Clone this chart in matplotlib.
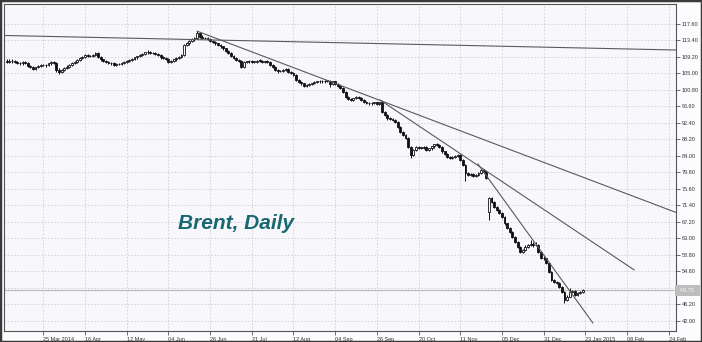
import numpy as np
import matplotlib
matplotlib.use('Agg')
import matplotlib.pyplot as plt
from matplotlib.patches import Rectangle

# daily OHLC, one entry per trading day, 05 Mar 2014 .. 22 Jan 2015
opens = [108.1, 107.9, 108.2, 108.0, 107.8, 107.6, 107.5, 107.8, 107.7, 106.8,
         106.5, 106.0, 106.5, 106.8, 107.1, 107.0, 107.2, 107.5, 107.9, 107.7,
         105.8, 105.4, 105.8, 106.3, 106.7, 107.1, 107.7, 107.8, 108.4, 108.8,
         109.2, 109.6, 109.4, 109.3, 109.6, 110.1, 109.2, 108.5, 108.2, 107.9,
         107.7, 107.5, 107.2, 107.4, 107.3, 107.6, 107.9, 108.1, 108.4, 108.7,
         109.0, 109.3, 109.6, 110.0, 110.3, 110.5, 110.2, 110.1, 109.9, 109.6,
         109.0, 108.8, 108.6, 107.9, 108.1, 108.5, 108.8, 109.2, 109.6, 112.2,
         112.6, 113.2, 113.6, 114.0, 115.1, 114.3, 114.0, 113.9, 113.7, 113.3,
         113.0, 112.6, 112.2, 111.8, 111.3, 110.7, 110.1, 109.4, 108.8, 108.4,
         108.1, 106.7, 107.8, 108.0, 108.1, 107.9, 107.9, 108.2, 108.1, 107.8,
         108.0, 107.9, 107.2, 106.7, 105.8, 105.5, 105.6, 105.8, 106.1, 105.4,
         105.0, 104.6, 103.3, 102.8, 102.4, 101.8, 102.0, 102.2, 102.4, 102.7,
         102.9, 103.0, 102.9, 103.0, 103.0, 102.3, 102.9, 102.3, 101.8, 101.2,
         100.3, 99.0, 98.4, 98.2, 98.6, 99.0, 98.8, 98.2, 97.8, 97.5,
         97.3, 97.4, 97.6, 97.2, 97.6, 95.2, 94.4, 93.5, 93.4, 93.1,
         92.7, 91.4, 90.1, 89.3, 88.5, 86.3, 84.2, 85.5, 86.3, 86.1,
         86.0, 86.3, 85.5, 85.9, 86.4, 86.9, 86.8, 86.3, 85.1, 84.4,
         83.8, 83.4, 83.8, 84.0, 84.2, 82.9, 81.7, 79.6, 79.1, 79.3,
         78.9, 79.1, 79.6, 80.4, 80.0, 69.8, 73.2, 72.3, 71.1, 70.2,
         69.4, 68.5, 66.8, 65.6, 64.7, 63.4, 62.2, 60.9, 59.6, 60.1,
         60.9, 61.3, 61.5, 61.2, 61.3, 59.6, 58.1, 57.9, 56.7, 54.5,
         52.4, 52.0, 51.6, 50.7, 49.4, 47.3, 48.2, 49.3, 49.5, 48.6,
         49.0, 49.3]

highs = [108.5, 108.5, 108.5, 108.3, 108.1, 107.9, 108.1, 108.1, 107.9, 107.1,
         106.8, 106.7, 107.0, 107.3, 107.4, 107.4, 107.7, 108.2, 108.2, 107.9,
         106.2, 106.0, 106.6, 107.0, 107.4, 107.9, 108.1, 108.6, 109.1, 109.5,
         109.9, 109.9, 109.7, 109.8, 110.5, 110.3, 109.4, 108.7, 108.4, 108.1,
         107.9, 107.8, 107.6, 107.7, 107.8, 108.1, 108.3, 108.6, 108.9, 109.2,
         109.5, 109.8, 110.2, 110.5, 110.8, 110.7, 110.5, 110.3, 110.1, 109.8,
         109.3, 109.0, 108.8, 108.4, 108.7, 109.0, 109.4, 109.8, 112.5, 112.9,
         113.5, 113.9, 114.3, 115.7, 115.3, 114.6, 114.3, 114.1, 113.9, 113.5,
         113.2, 112.8, 112.4, 112.0, 111.5, 110.9, 110.3, 109.6, 109.0, 108.6,
         108.3, 108.0, 108.2, 108.4, 108.3, 108.2, 108.4, 108.5, 108.3, 108.2,
         108.3, 108.1, 107.4, 106.9, 106.0, 105.9, 106.0, 106.3, 106.3, 105.6,
         105.2, 104.8, 103.5, 103.0, 102.6, 102.3, 102.4, 102.6, 102.9, 103.1,
         103.2, 103.2, 103.2, 103.3, 103.2, 103.1, 103.1, 102.5, 102.0, 101.4,
         100.5, 99.2, 98.6, 98.8, 99.2, 99.3, 99.0, 98.4, 98.0, 97.7,
         97.6, 97.8, 97.8, 97.8, 97.9, 95.5, 94.6, 93.8, 93.6, 93.3,
         92.9, 91.6, 90.3, 89.5, 88.7, 86.5, 85.8, 86.6, 86.6, 86.3,
         86.5, 86.5, 86.1, 86.6, 87.1, 87.3, 87.0, 86.5, 85.3, 84.6,
         84.0, 84.0, 84.2, 84.4, 84.4, 83.1, 81.9, 79.9, 79.5, 79.5,
         79.3, 79.8, 80.7, 80.6, 80.2, 73.6, 73.5, 72.5, 71.3, 70.4,
         69.6, 68.7, 67.0, 65.8, 64.9, 63.6, 62.4, 61.1, 60.4, 61.2,
         61.6, 62.5, 62.2, 62.2, 61.5, 59.8, 58.4, 58.1, 56.9, 54.7,
         52.6, 52.2, 51.8, 50.9, 49.6, 48.6, 50.4, 49.8, 49.8, 49.3,
         49.6, 50.1]

lows = [107.6, 107.6, 107.7, 107.5, 107.3, 107.2, 107.2, 107.4, 106.5, 106.2,
        105.7, 105.8, 106.2, 106.5, 106.8, 106.7, 106.9, 107.2, 107.4, 105.4,
        104.9, 105.1, 105.5, 106.0, 106.4, 106.8, 107.4, 107.5, 108.1, 108.5,
        108.9, 109.1, 109.0, 109.0, 109.3, 108.9, 108.2, 107.9, 107.6, 107.4,
        107.2, 106.9, 106.9, 107.0, 107.0, 107.3, 107.6, 107.8, 108.1, 108.4,
        108.7, 109.0, 109.3, 109.7, 110.0, 109.9, 109.8, 109.6, 109.3, 108.7,
        108.5, 108.3, 107.5, 107.6, 107.9, 108.2, 108.5, 108.9, 109.3, 111.9,
        112.3, 112.9, 113.3, 113.7, 114.0, 113.7, 113.6, 113.4, 113.0, 112.7,
        112.3, 111.9, 111.5, 111.0, 110.4, 109.8, 109.1, 108.5, 108.1, 107.8,
        106.2, 106.4, 107.5, 107.7, 107.6, 107.6, 107.6, 107.8, 107.5, 107.5,
        107.6, 106.9, 106.4, 105.5, 105.0, 105.2, 105.4, 105.5, 105.1, 104.7,
        104.3, 103.0, 102.5, 102.1, 101.5, 101.6, 101.8, 102.0, 102.2, 102.5,
        102.6, 102.6, 102.6, 102.7, 101.6, 102.0, 102.0, 101.5, 100.9, 100.0,
        98.7, 98.1, 97.9, 98.0, 98.4, 98.5, 97.9, 97.5, 97.2, 97.0,
        97.0, 97.1, 96.9, 96.9, 94.9, 94.1, 93.2, 93.1, 92.8, 92.4,
        91.1, 89.8, 89.0, 88.2, 86.0, 83.4, 84.0, 85.2, 85.8, 85.7,
        85.7, 85.2, 85.2, 85.6, 86.1, 86.5, 86.0, 84.8, 84.1, 83.5,
        83.1, 83.1, 83.5, 83.7, 82.6, 81.4, 77.5, 78.8, 78.8, 78.6,
        78.6, 78.8, 79.3, 79.7, 78.0, 67.7, 72.0, 70.8, 69.9, 69.1,
        68.2, 66.5, 65.3, 64.4, 63.1, 61.9, 60.6, 59.3, 59.3, 59.8,
        60.6, 61.0, 60.9, 61.0, 59.3, 57.8, 57.6, 56.4, 54.2, 52.1,
        51.7, 51.3, 50.4, 49.1, 46.5, 47.0, 48.0, 49.0, 48.3, 48.4,
        48.8, 49.0]

closes = [107.9, 108.2, 108.0, 107.8, 107.6, 107.5, 107.8, 107.7, 106.8, 106.5,
          106.0, 106.5, 106.8, 107.1, 107.0, 107.2, 107.5, 107.9, 107.7, 105.8,
          105.4, 105.8, 106.3, 106.7, 107.1, 107.7, 107.8, 108.4, 108.8, 109.2,
          109.6, 109.4, 109.3, 109.6, 110.1, 109.2, 108.5, 108.2, 107.9, 107.7,
          107.5, 107.2, 107.4, 107.3, 107.6, 107.9, 108.1, 108.4, 108.7, 109.0,
          109.3, 109.6, 110.0, 110.3, 110.5, 110.2, 110.1, 109.9, 109.6, 109.0,
          108.8, 108.6, 107.9, 108.1, 108.5, 108.8, 109.2, 109.6, 112.2, 112.6,
          113.2, 113.6, 114.0, 115.1, 114.3, 114.0, 113.9, 113.7, 113.3, 113.0,
          112.6, 112.2, 111.8, 111.3, 110.7, 110.1, 109.4, 108.8, 108.4, 108.1,
          106.7, 107.8, 108.0, 108.1, 107.9, 107.9, 108.2, 108.1, 107.8, 108.0,
          107.9, 107.2, 106.7, 105.8, 105.5, 105.6, 105.8, 106.1, 105.4, 105.0,
          104.6, 103.3, 102.8, 102.4, 101.8, 102.0, 102.2, 102.4, 102.7, 102.9,
          103.0, 102.9, 103.0, 103.0, 102.3, 102.9, 102.3, 101.8, 101.2, 100.3,
          99.0, 98.4, 98.2, 98.6, 99.0, 98.8, 98.2, 97.8, 97.5, 97.3,
          97.4, 97.6, 97.2, 97.6, 95.2, 94.4, 93.5, 93.4, 93.1, 92.7,
          91.4, 90.1, 89.3, 88.5, 86.3, 84.2, 85.5, 86.3, 86.1, 86.0,
          86.3, 85.5, 85.9, 86.4, 86.9, 86.8, 86.3, 85.1, 84.4, 83.8,
          83.4, 83.8, 84.0, 84.2, 82.9, 81.7, 79.6, 79.1, 79.3, 78.9,
          79.1, 79.6, 80.4, 80.0, 78.3, 73.2, 72.3, 71.1, 70.2, 69.4,
          68.5, 66.8, 65.6, 64.7, 63.4, 62.2, 60.9, 59.6, 60.1, 60.9,
          61.3, 61.5, 61.2, 61.3, 59.6, 58.1, 57.9, 56.7, 54.5, 52.4,
          52.0, 51.6, 50.7, 49.4, 47.3, 48.2, 49.3, 49.5, 48.6, 49.0,
          49.3, 49.75]

# x axis is counted in trading days, a label every 16 bars
date_labels = ['25 Mar 2014', '16 Apr', '12 May', '04 Jun', '26 Jun', '21 Jul',
               '12 Aug', '04 Sep', '26 Sep', '20 Oct', '11 Nov', '05 Dec',
               '31 Dec', '23 Jan 2015', '08 Feb', '24 Feb']
first_label_bar = 14
label_step = 16

price_ticks = [42.0, 46.2, 50.4, 54.6, 58.8, 63.0, 67.2, 71.4, 75.6, 79.8, 84.0,
               88.2, 92.4, 96.6, 100.8, 105.0, 109.2, 113.4, 117.6]
last_price = 49.75

# hand drawn trend lines: (bar, price) -> (bar, price)
trend_lines = [
    ((-1.1, 114.6), (256.8, 110.9)),
    ((73.0, 115.7), (256.8, 69.6)),
    ((143.2, 98.2), (240.7, 55.0)),
    ((180.8, 81.9), (224.9, 41.5)),
]


def drawCandles(ax):
    x = np.arange(len(closes))
    o = np.array(opens)
    c = np.array(closes)
    up = c >= o
    ax.vlines(x, lows, highs, color='#111111', lw=0.7, zorder=3)
    body = np.maximum(np.abs(c - o), 0.15)
    bottom = np.minimum(o, c)
    ax.bar(x[up], body[up], bottom=bottom[up], width=0.72, color='white',
           edgecolor='#111111', lw=0.6, zorder=4)
    ax.bar(x[~up], body[~up], bottom=bottom[~up], width=0.72, color='#111111',
           edgecolor='#111111', lw=0.6, zorder=4)


fig = plt.figure(figsize=(7.02, 3.42), dpi=100, facecolor='#fcfcfe')
ax = fig.add_axes([4 / 702, 11 / 342, 672 / 702, 327 / 342])
ax.set_facecolor('#f8f8fc')

drawCandles(ax)

for (x0, y0), (x1, y1) in trend_lines:
    ax.plot([x0, x1], [y0, y1], color='#5a5a5a', lw=0.8, zorder=5)

ax.axhline(last_price, color='#bcbcbc', lw=0.9, zorder=2)

ax.set_xlim(-1.1, 256.8)
ax.set_ylim(39.45, 122.6)

xt = [first_label_bar + k * label_step for k in range(len(date_labels))]
ax.set_xticks(xt)
ax.set_xticklabels(date_labels, ha='left')
ax.set_yticks(price_ticks)
ax.set_yticklabels(['{:.2f}'.format(p) for p in price_ticks])
ax.yaxis.tick_right()
ax.tick_params(axis='both', labelsize=4, colors='#555555', labelcolor='#333333',
               length=3, width=0.6, pad=1)
for lab in ax.get_xticklabels() + ax.get_yticklabels():
    lab.set_family('Liberation Sans')

ax.grid(True, color='#cfcfd8', lw=0.6, linestyle=(0, (2, 2)))
ax.set_axisbelow(True)
for sp in ax.spines.values():
    sp.set_color('#555555')
    sp.set_linewidth(0.8)

# current price tag on the price axis, drawn over the 50.40 label as in the terminal
ax.text(1.003, last_price, ' 49.75  ', transform=ax.get_yaxis_transform(),
        ha='left', va='center', fontsize=4.2, color='#f4f4f4', family='Liberation Sans',
        bbox=dict(boxstyle='square,pad=0.45', fc='#bdbdbd', ec='none'), zorder=6,
        clip_on=False)

fig.text(178 / 702, (342 - 229) / 342, 'Brent, Daily', fontsize=15,
         family='Liberation Sans', weight='bold', style='italic', color='#186872',
         va='baseline')

fig.patches.append(Rectangle((0, 0), 1, 1, transform=fig.transFigure, fill=False,
                             ec='#3a3a3a', lw=2.5))

fig.savefig('out.png', dpi=100, facecolor=fig.get_facecolor())
